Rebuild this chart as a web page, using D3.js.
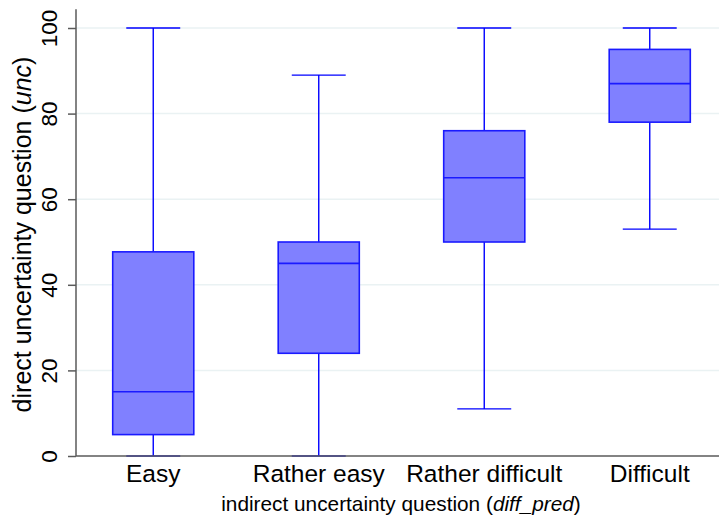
<!DOCTYPE html>
<html>
<head>
<meta charset="utf-8">
<script src="https://cdn.jsdelivr.net/npm/d3@7"></script>
<style>
  html, body { margin: 0; padding: 0; background: #fff; }
  svg { display: block; font-family: "Liberation Sans", Arial, Helvetica, sans-serif; }
</style>
</head>
<body>
<svg id="chart" width="719" height="517"></svg>
<script>
// ---- data ----
const categories = ["Easy", "Rather easy", "Rather difficult", "Difficult"];
const whiskerLow  = [0, 0, 11, 53];
const q1          = [5, 24, 50, 78];
const median      = [15, 45, 65, 87];
const q3          = [47.7, 50, 76, 95];
const whiskerHigh = [100, 89, 100, 100];
const yTicks = [0, 20, 40, 60, 80, 100];
const yTitle = ["direct uncertainty question (", "unc", ")"];
const xTitle = ["indirect uncertainty question (", "diff_pred", ")"];

const svg = d3.select("#chart");
const W = 719, H = 517;
svg.append("rect").attr("width", W).attr("height", H).attr("fill", "#fff");

const axisX = 76, axisBottom = 456;
const y = d3.scaleLinear().domain([0, 100]).range([456, 28]);
const x = d3.scaleBand().domain(categories).range([70.5, 732.5]).padding(0);
const bw = x.bandwidth();
const boxW = bw * 0.49;
const capW = bw * 0.326;

// grid lines
svg.append("g").selectAll("line").data(yTicks.filter(d => d > 0)).join("line")
  .attr("x1", axisX).attr("x2", W)
  .attr("y1", d => y(d)).attr("y2", d => y(d))
  .attr("stroke", "#eaf2f3").attr("stroke-width", 1.5);

// boxes
const data = categories.map((c, i) => ({c, lo: whiskerLow[i], q1: q1[i], med: median[i], q3: q3[i], hi: whiskerHigh[i]}));
const g = svg.append("g").selectAll("g").data(data).join("g")
  .attr("transform", d => `translate(${x(d.c) + bw / 2},0)`);

const wc = "#0000ff";
g.append("line").attr("x1", 0).attr("x2", 0)
  .attr("y1", d => y(d.q3)).attr("y2", d => y(d.hi))
  .attr("stroke", wc).attr("stroke-width", 1.4);
g.append("line").attr("x1", 0).attr("x2", 0)
  .attr("y1", d => y(d.q1)).attr("y2", d => y(d.lo))
  .attr("stroke", wc).attr("stroke-width", 1.4);
g.append("line").attr("x1", -capW / 2).attr("x2", capW / 2)
  .attr("y1", d => y(d.hi)).attr("y2", d => y(d.hi))
  .attr("stroke", wc).attr("stroke-width", 1.4);
g.append("line").attr("x1", -capW / 2).attr("x2", capW / 2)
  .attr("y1", d => y(d.lo)).attr("y2", d => y(d.lo))
  .attr("stroke", wc).attr("stroke-width", 1.4);
g.append("rect")
  .attr("x", -boxW / 2).attr("width", boxW)
  .attr("y", d => y(d.q3)).attr("height", d => y(d.q1) - y(d.q3))
  .attr("fill", "#8080ff").attr("stroke", "#1a1aff").attr("stroke-width", 1.6);
g.append("line").attr("x1", -boxW / 2).attr("x2", boxW / 2)
  .attr("y1", d => y(d.med)).attr("y2", d => y(d.med))
  .attr("stroke", "#1a1aff").attr("stroke-width", 1.6);

// y axis
const yAxis = d3.axisLeft(y).tickValues(yTicks).tickSize(8).tickSizeOuter(0).tickFormat(d3.format("d"));
const ya = svg.append("g").attr("transform", `translate(${axisX},0)`).call(yAxis);
ya.attr("font-size", null).attr("font-family", null);
ya.select(".domain").remove();
ya.append("line").attr("x1", 0).attr("x2", 0).attr("y1", y(104.4)).attr("y2", axisBottom)
  .attr("stroke", "#5a5a5a").attr("stroke-width", 1.5);
ya.selectAll(".tick line").attr("stroke", "#5a5a5a").attr("stroke-width", 1.5);
ya.selectAll(".tick text")
  .attr("x", null).attr("dy", null)
  .attr("transform", "translate(-19,0) rotate(-90)")
  .attr("text-anchor", "middle")
  .style("font-size", "22.5px").attr("fill", "#000");

// x axis
const xAxis = d3.axisBottom(x).tickSize(0).tickSizeOuter(0);
const xa = svg.append("g").attr("transform", `translate(0,${axisBottom})`).call(xAxis);
xa.attr("font-size", null).attr("font-family", null);
xa.select(".domain").remove();
xa.append("line").attr("x1", axisX).attr("x2", W).attr("y1", 0).attr("y2", 0)
  .attr("stroke", "#5a5a5a").attr("stroke-width", 1.5);
xa.selectAll(".tick text")
  .attr("y", 26).attr("dy", null)
  .style("font-size", "24.5px").attr("fill", "#000");

// y title
const yt = svg.append("text")
  .attr("transform", "translate(31,234.5) rotate(-90)")
  .attr("text-anchor", "middle").style("font-size", "25px").attr("fill", "#000");
yt.selectAll("tspan").data(yTitle).join("tspan")
  .attr("font-style", (d, i) => i === 1 ? "italic" : "normal").text(d => d);

// x title
const xt = svg.append("text")
  .attr("x", 401).attr("y", 511)
  .attr("text-anchor", "middle").style("font-size", "20.8px").attr("fill", "#000");
xt.selectAll("tspan").data(xTitle).join("tspan")
  .attr("font-style", (d, i) => i === 1 ? "italic" : "normal").text(d => d);
</script>
</body>
</html>
